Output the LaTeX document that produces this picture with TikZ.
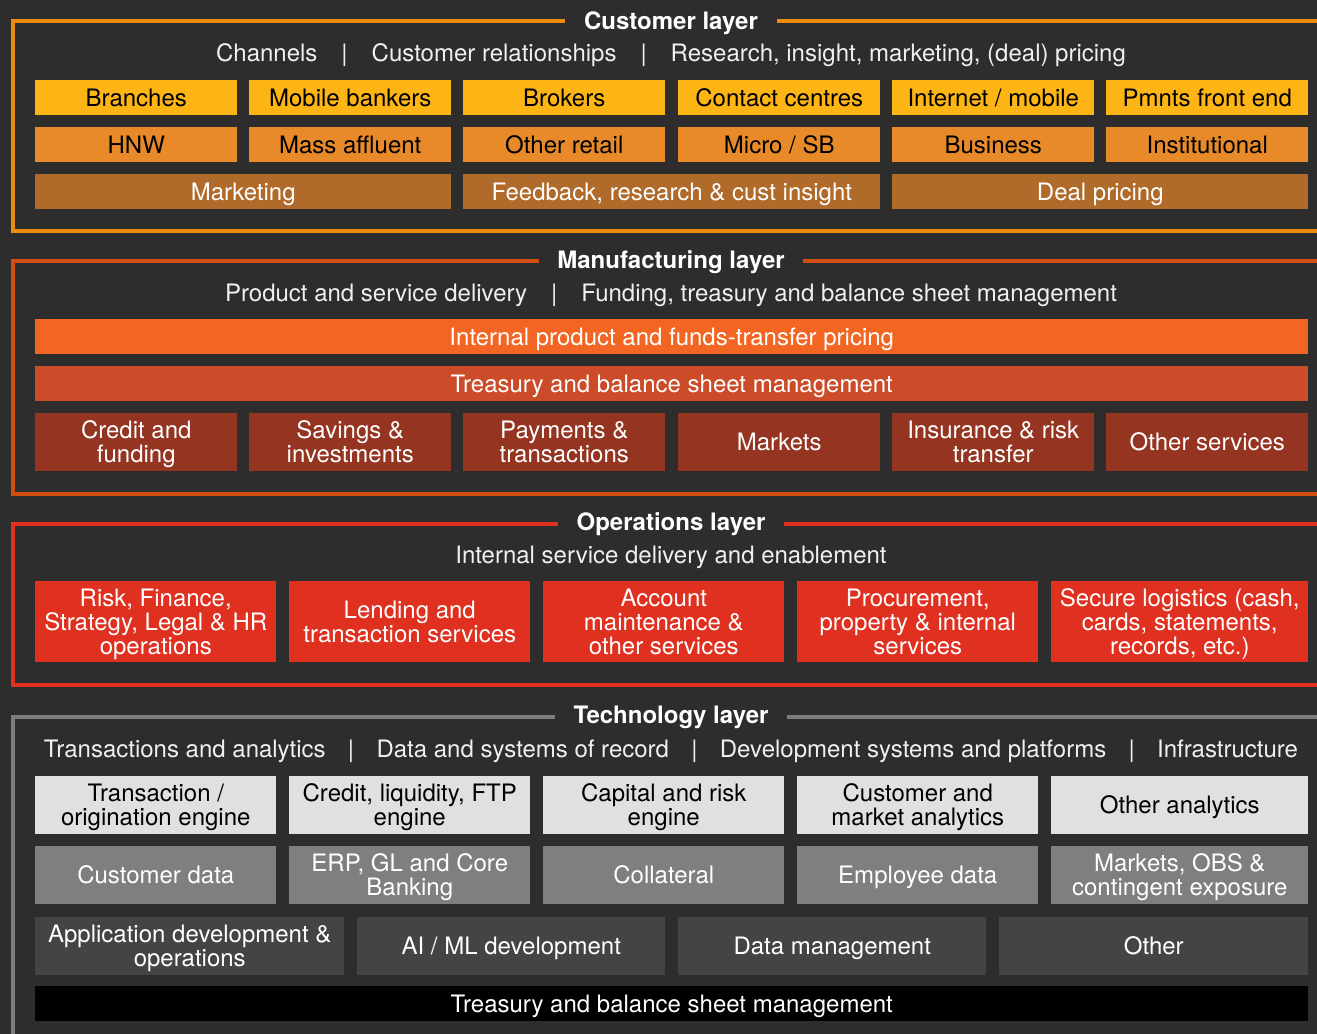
\documentclass[tikz,border=0pt]{standalone}
\usepackage{fontspec}
\setmainfont{TeX Gyre Heros}

\definecolor{bg}{HTML}{2D2D2D}
\definecolor{custline}{HTML}{EC8C0C}
\definecolor{chanfill}{HTML}{FDB515}
\definecolor{segfill}{HTML}{E88A2A}
\definecolor{mktfill}{HTML}{B06A2A}
\definecolor{mfgline}{HTML}{D04E10}
\definecolor{ftpfill}{HTML}{F26522}
\definecolor{tsyfill}{HTML}{CC4B28}
\definecolor{prodfill}{HTML}{943421}
\definecolor{opsline}{HTML}{E03020}
\definecolor{opsfill}{HTML}{DF3020}
\definecolor{techline}{HTML}{7C7C7C}
\definecolor{engfill}{HTML}{E0E0E0}
\definecolor{datafill}{HTML}{7F7F7F}
\definecolor{devfill}{HTML}{444444}

\tikzset{
  layerline/.style={line width=3pt, draw=#1},
  layertitle/.style={fill=bg, text=white, anchor=base, inner xsep=14pt, inner ysep=2pt,
    font=\bfseries\fontsize{18}{18}\selectfont},
  subtitle/.style={text=white!94!black, anchor=base, inner sep=0pt,
    font=\fontsize{18}{18}\selectfont},
  cell/.style 2 args={anchor=north west, inner sep=0pt, align=center,
    minimum width=#1*0.75pt, minimum height=#2*0.75pt,
    text height=12.9pt, text depth=0pt,
    font=\fontsize{18}{18}\selectfont},
  two/.style={text height=30.9pt},
  three/.style={text height=48.9pt},
  chan/.style={fill=chanfill, text=black},
  seg/.style={fill=segfill, text=black},
  mkt/.style={fill=mktfill, text=white},
  ftp/.style={fill=ftpfill, text=white},
  tsy/.style={fill=tsyfill, text=white},
  prod/.style={fill=prodfill, text=white},
  ops/.style={fill=opsfill, text=white},
  eng/.style={fill=engfill, text=black},
  data/.style={fill=datafill, text=white},
  dev/.style={fill=devfill, text=white},
  base/.style={fill=black, text=white}
}

\begin{document}
\begin{tikzpicture}[x=0.75pt, y=-0.75pt]
  \useasboundingbox[fill=bg] (0,0) rectangle (1317,1034);

  % frames
  \draw[layerline=custline] (1317,21.5) -| (12.5,231.5) -- (1317,231.5);
  \draw[layerline=mfgline] (1317,261.5) -| (12.5,493.5) -- (1317,493.5);
  \draw[layerline=opsline] (1317,523.5) -| (12.5,685) -- (1317,685);
  \draw[layerline=techline] (1317,716.5) -| (12.5,1034);

  \node[layertitle] (custtitle) at (671,29.5) {Customer layer};
  \node[layertitle] (mfgtitle) at (671,269) {Manufacturing layer};
  \node[layertitle] (opstitle) at (671,530) {Operations layer};
  \node[layertitle] (techtitle) at (671,723) {Technology layer};

  % customer layer
  \node[subtitle] (custsub) at (671,62)
    {Channels\quad|\quad Customer relationships\quad|\quad Research, insight, marketing, (deal) pricing};
  \node[cell={202}{35}, chan] (branches) at (35,80) {Branches};
  \node[cell={202}{35}, chan] (mobile) at (249,80) {Mobile bankers};
  \node[cell={202}{35}, chan] (brokers) at (463,80) {Brokers};
  \node[cell={202}{35}, chan] (contact) at (678,80) {Contact centres};
  \node[cell={202}{35}, chan] (internet) at (892,80) {Internet / mobile};
  \node[cell={202}{35}, chan] (pmnts) at (1106,80) {Pmnts front end};
  \node[cell={202}{35}, seg] (hnw) at (35,127) {HNW};
  \node[cell={202}{35}, seg] (massaff) at (249,127) {Mass affluent};
  \node[cell={202}{35}, seg] (otherretail) at (463,127) {Other retail};
  \node[cell={202}{35}, seg] (microsb) at (678,127) {Micro / SB};
  \node[cell={202}{35}, seg] (business) at (892,127) {Business};
  \node[cell={202}{35}, seg] (instit) at (1106,127) {Institutional};
  \node[cell={416}{35}, mkt] (marketing) at (35,174) {Marketing};
  \node[cell={417}{35}, mkt] (feedback) at (463,174) {Feedback, research \& cust insight};
  \node[cell={416}{35}, mkt] (dealpricing) at (892,174) {Deal pricing};

  % manufacturing layer
  \node[subtitle] (mfgsub) at (671,301)
    {Product and service delivery\quad|\quad Funding, treasury and balance sheet management};
  \node[cell={1273}{35}, ftp] (ftpbar) at (35,319) {Internal product and funds-transfer pricing};
  \node[cell={1273}{35}, tsy] (tsybar) at (35,366) {Treasury and balance sheet management};
  \node[cell={202}{58}, prod, two] (credit) at (35,413) {Credit and\\funding};
  \node[cell={202}{58}, prod, two] (savings) at (249,413) {Savings \&\\investments};
  \node[cell={202}{58}, prod, two] (payments) at (463,413) {Payments \&\\transactions};
  \node[cell={202}{58}, prod] (markets) at (678,413) {Markets};
  \node[cell={202}{58}, prod, two] (insurance) at (892,413) {Insurance \& risk\\transfer};
  \node[cell={202}{58}, prod] (otherserv) at (1106,413) {Other services};

  % operations layer
  \node[subtitle] (opssub) at (671,563) {Internal service delivery and enablement};
  \node[cell={241}{81}, ops, three] (riskfin) at (35,581) {Risk, Finance,\\Strategy, Legal \& HR\\operations};
  \node[cell={241}{81}, ops, two] (lending) at (289,581) {Lending and\\transaction services};
  \node[cell={241}{81}, ops, three] (account) at (543,581) {Account\\maintenance \&\\other services};
  \node[cell={241}{81}, ops, three] (procure) at (797,581) {Procurement,\\property \& internal\\services};
  \node[cell={257}{81}, ops, three] (logistics) at (1051,581) {Secure logistics (cash,\\cards, statements,\\records, etc.)};

  % technology layer
  \node[subtitle] (techsub) at (671,757)
    {Transactions and analytics\hspace{0.93em}|\hspace{0.93em}Data and systems of record\hspace{0.93em}|\hspace{0.93em}Development systems and platforms\hspace{0.93em}|\hspace{0.93em}Infrastructure};
  \node[cell={241}{58}, eng, two] (txengine) at (35,776) {Transaction /\\origination engine};
  \node[cell={241}{58}, eng, two] (crengine) at (289,776) {Credit, liquidity, FTP\\engine};
  \node[cell={241}{58}, eng, two] (capengine) at (543,776) {Capital and risk\\engine};
  \node[cell={241}{58}, eng, two] (custanalytics) at (797,776) {Customer and\\market analytics};
  \node[cell={257}{58}, eng] (otheranalytics) at (1051,776) {Other analytics};
  \node[cell={241}{58}, data] (custdata) at (35,846) {Customer data};
  \node[cell={241}{58}, data, two] (erp) at (289,846) {ERP, GL and Core\\Banking};
  \node[cell={241}{58}, data] (collateral) at (543,846) {Collateral};
  \node[cell={241}{58}, data] (empdata) at (797,846) {Employee data};
  \node[cell={257}{58}, data, two] (obs) at (1051,846) {Markets, OBS \&\\contingent exposure};
  \node[cell={309}{58}, dev, two] (appdev) at (35,917) {Application development \&\\operations};
  \node[cell={308}{58}, dev] (aiml) at (357,917) {AI / ML development};
  \node[cell={308}{58}, dev] (datamgmt) at (678,917) {Data management};
  \node[cell={309}{58}, dev] (otherdev) at (999,917) {Other};
  \node[cell={1273}{35}, base] (basebar) at (35,986) {Treasury and balance sheet management};
\end{tikzpicture}
\end{document}
